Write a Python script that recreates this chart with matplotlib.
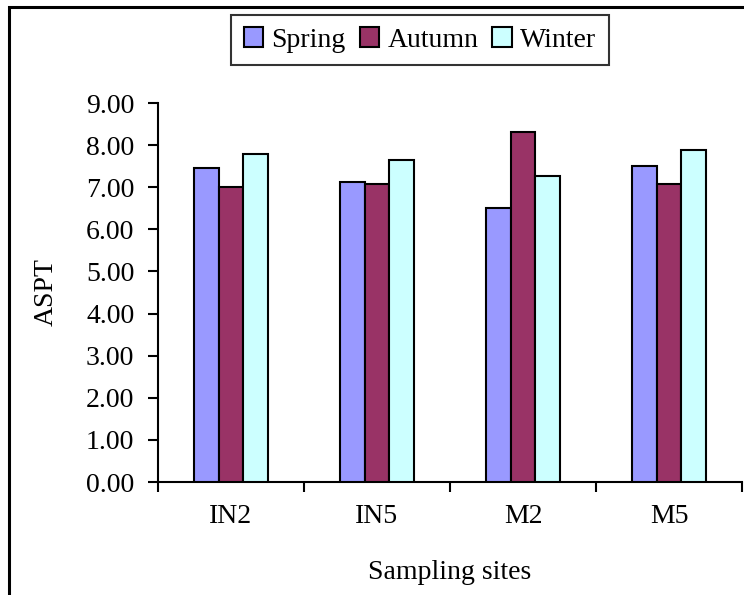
import numpy as np
import matplotlib.pyplot as plt
from matplotlib.patches import Rectangle

plt.rcParams['font.family'] = ['Liberation Serif', 'DejaVu Serif']

sites = ['IN2', 'IN5', 'M2', 'M5']
spring = [7.45, 7.12, 6.51, 7.50]
autumn = [7.01, 7.07, 8.31, 7.07]
winter = [7.78, 7.64, 7.26, 7.88]

seasons = ['Spring', 'Autumn', 'Winter']
colors = ['#9999FF', '#993366', '#CCFFFF']

fig = plt.figure(figsize=(7.44, 5.95), dpi=100)
ax = fig.add_axes([158 / 744, 113 / 595, 584 / 744, 379 / 595])

# outer chart frame (runs off the right and bottom edges)
fig.patches.append(Rectangle((9 / 744, -0.05), 1.2, (595 - 7) / 595 + 0.05,
                             transform=fig.transFigure, fill=False,
                             edgecolor='black', linewidth=2.2))

x = np.arange(len(sites))
w = 0.17
for i, (vals, lab, c) in enumerate(zip([spring, autumn, winter], seasons, colors)):
    ax.bar(x + (i - 1) * w, vals, w, color=c, edgecolor='black',
           linewidth=1.5, label=lab, zorder=3)

ax.set_xlim(-0.5, len(sites) - 0.5)
ax.set_ylim(0, 9)
ax.set_yticks(np.arange(0, 10, 1))
ax.set_yticklabels([f'{v:.2f}' for v in np.arange(0, 10, 1)])
ax.set_xticks(x)
ax.set_xticklabels(sites)
ax.set_xticks(np.arange(-0.5, len(sites)), minor=True)
ax.tick_params(axis='x', which='major', length=0, pad=16, labelsize=20)
ax.tick_params(axis='x', which='minor', length=7, width=1.5, direction='out')
ax.tick_params(axis='y', length=7, width=1.5, direction='out', labelsize=20, pad=10)

for s in ['top', 'right']:
    ax.spines[s].set_visible(False)
for s in ['left', 'bottom']:
    ax.spines[s].set_linewidth(1.5)

ax.set_ylabel('ASPT', fontsize=20, labelpad=20)
ax.set_xlabel('Sampling sites', fontsize=20, labelpad=22)

leg = fig.legend(loc='center', bbox_to_anchor=(420 / 744, 1 - 40 / 595), ncol=3,
                 fontsize=20, frameon=True, fancybox=False, edgecolor='black',
                 handlelength=0.7, handleheight=0.7, handletextpad=0.3,
                 columnspacing=0.5, borderpad=0.45)
leg.get_frame().set_linewidth(1.5)

fig.savefig('out.png', dpi=100)
